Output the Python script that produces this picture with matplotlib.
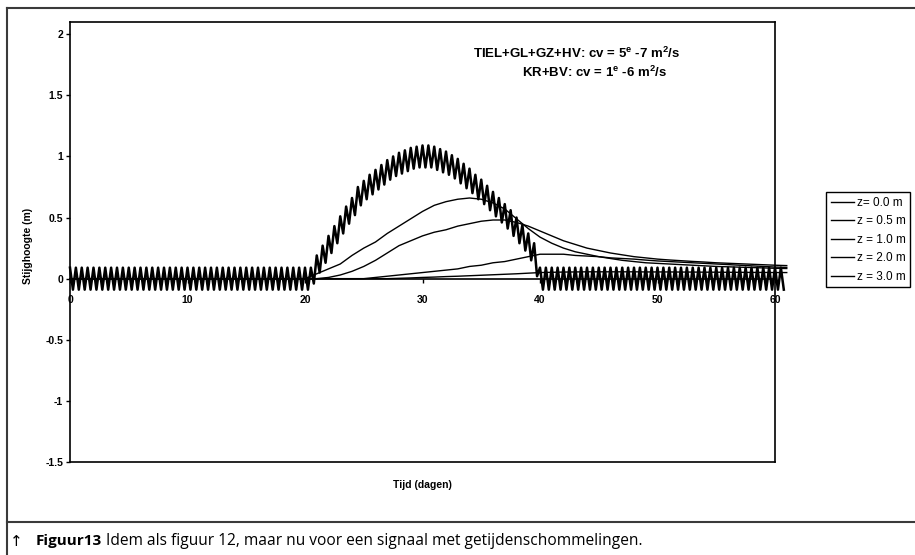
import numpy as np
import matplotlib
matplotlib.use("Agg")
from matplotlib import pyplot as plt
from matplotlib.lines import Line2D

plt.rcParams['font.family'] = ['Liberation Sans', 'DejaVu Sans']
plt.rcParams['mathtext.fontset'] = 'custom'
plt.rcParams['mathtext.rm'] = 'Liberation Sans:bold'
plt.rcParams['mathtext.default'] = 'rm'

# z = 0.0 m: getij, kammen op hele/halve dagen, dalen een kwart dag later
kam = [
    0.09, 0.09, 0.09, 0.09, 0.09, 0.09, 0.09, 0.09, 0.09, 0.09,
    0.09, 0.09, 0.09, 0.09, 0.09, 0.09, 0.09, 0.09, 0.09, 0.09,
    0.09, 0.09, 0.09, 0.09, 0.09, 0.09, 0.09, 0.09, 0.09, 0.09,
    0.09, 0.09, 0.09, 0.09, 0.09, 0.09, 0.09, 0.09, 0.09, 0.09,
    0.09,
    0.09, 0.19, 0.27, 0.35, 0.43, 0.51, 0.59, 0.66, 0.75, 0.80,
    0.85, 0.89, 0.93, 0.97, 1.00, 1.03, 1.05, 1.07, 1.08, 1.09,
    1.09, 1.08, 1.06, 1.04, 1.01, 0.98, 0.94, 0.90, 0.85, 0.81,
    0.76, 0.71, 0.66, 0.61, 0.56, 0.50, 0.44, 0.37, 0.29,
    0.09, 0.09, 0.09, 0.09, 0.09, 0.09, 0.09, 0.09, 0.09, 0.09,
    0.09, 0.09, 0.09, 0.09, 0.09, 0.09, 0.09, 0.09, 0.09, 0.09,
    0.09, 0.09, 0.09, 0.09, 0.09, 0.09, 0.09, 0.09, 0.09, 0.09,
    0.09, 0.09, 0.09, 0.09, 0.09, 0.09, 0.09, 0.09, 0.09, 0.09,
    0.09, 0.09,
]
dal = [
    -0.09, -0.09, -0.09, -0.09, -0.09, -0.09, -0.09, -0.09, -0.09, -0.09,
    -0.09, -0.09, -0.09, -0.09, -0.09, -0.09, -0.09, -0.09, -0.09, -0.09,
    -0.09, -0.09, -0.09, -0.09, -0.09, -0.09, -0.09, -0.09, -0.09, -0.09,
    -0.09, -0.09, -0.09, -0.09, -0.09, -0.09, -0.09, -0.09, -0.09, -0.09,
    -0.09,
    -0.04, 0.05, 0.13, 0.21, 0.29, 0.37, 0.45, 0.52, 0.60, 0.65,
    0.69, 0.73, 0.77, 0.81, 0.84, 0.86, 0.88, 0.90, 0.91, 0.91,
    0.91, 0.89, 0.87, 0.85, 0.82, 0.78, 0.74, 0.70, 0.65, 0.61,
    0.56, 0.51, 0.46, 0.41, 0.35, 0.29, 0.23, 0.15, 0.02,
    -0.09, -0.09, -0.09, -0.09, -0.09, -0.09, -0.09, -0.09, -0.09, -0.09,
    -0.09, -0.09, -0.09, -0.09, -0.09, -0.09, -0.09, -0.09, -0.09, -0.09,
    -0.09, -0.09, -0.09, -0.09, -0.09, -0.09, -0.09, -0.09, -0.09, -0.09,
    -0.09, -0.09, -0.09, -0.09, -0.09, -0.09, -0.09, -0.09, -0.09, -0.09,
    -0.09, -0.09,
]

# dieper gelegen niveaus, waarden per dag (dag 0 t/m 61)
dagen = list(range(0, 62))
z05 = [0.0] * 21 + [
    0.04, 0.08, 0.12, 0.19, 0.25, 0.30, 0.37, 0.43, 0.49, 0.55,
    0.60, 0.63, 0.65, 0.66, 0.65, 0.62, 0.57, 0.49, 0.41, 0.34,
    0.29, 0.25, 0.22, 0.20, 0.18, 0.165, 0.15, 0.14, 0.13, 0.125,
    0.12, 0.115, 0.11, 0.105, 0.10, 0.097, 0.094, 0.091, 0.088, 0.085,
    0.083,
]
z10 = [0.0] * 22 + [
    0.01, 0.03, 0.06, 0.10, 0.15, 0.21, 0.27, 0.31, 0.35, 0.38,
    0.40, 0.43, 0.45, 0.47, 0.48, 0.48, 0.46, 0.43, 0.39, 0.35,
    0.31, 0.28, 0.25, 0.23, 0.21, 0.195, 0.18, 0.17, 0.16, 0.153,
    0.147, 0.141, 0.136, 0.13, 0.126, 0.122, 0.118, 0.114, 0.11, 0.107,
]
z20 = [0.0] * 26 + [
    0.01, 0.02, 0.03, 0.04, 0.05, 0.06, 0.07, 0.08, 0.10, 0.11,
    0.13, 0.14, 0.16, 0.18, 0.20, 0.20, 0.20, 0.19, 0.185, 0.18,
    0.17, 0.165, 0.16, 0.152, 0.145, 0.14, 0.135, 0.13, 0.125, 0.12,
    0.115, 0.11, 0.105, 0.10, 0.095, 0.092,
]
z30 = [0.0] * 28 + [
    0.003, 0.006, 0.01, 0.013, 0.017, 0.02, 0.024, 0.028, 0.032, 0.036,
    0.04, 0.045, 0.05, 0.052, 0.054, 0.055, 0.056, 0.056, 0.056, 0.056,
    0.056, 0.055, 0.055, 0.055, 0.054, 0.054, 0.053, 0.053, 0.052, 0.052,
    0.051, 0.051, 0.05, 0.05,
]
labels = ["z= 0.0 m", "z = 0.5 m", "z = 1.0 m", "z = 2.0 m", "z = 3.0 m"]

# getij ineenvlechten: kam, dal, kam, dal ...
t_kam = np.arange(len(kam)) * 0.5
tijd = np.empty(2 * len(kam))
tijd[0::2] = t_kam
tijd[1::2] = t_kam + 0.25
z00 = np.empty(2 * len(kam))
z00[0::2] = kam
z00[1::2] = dal

fig = plt.figure(figsize=(9.15, 5.55), dpi=100)
ax = fig.add_axes([70 / 915, 1 - 462 / 555, 705 / 915, 440 / 555])

ax.plot(tijd, z00, color='black', lw=1.8, clip_on=False, label=labels[0])
for serie, lab in zip([z05, z10, z20, z30], labels[1:]):
    ax.plot(dagen, serie, color='black', lw=1.0, clip_on=False, label=lab)

ax.set_xlim(0, 60)
ax.set_ylim(-1.5, 2.1)
ax.set_xticks(range(0, 61, 10))
ax.set_yticks([-1.5, -1, -0.5, 0, 0.5, 1, 1.5, 2])
ax.set_yticklabels(["-1.5", "-1", "-0.5", "0", "0.5", "1", "1.5", "2"])

# x-as op nul, kader apart
ax.spines['bottom'].set_position(('data', 0))
ax.axhline(-1.5, color='black', lw=1.2, clip_on=False)
for s in ['left', 'right', 'top', 'bottom']:
    ax.spines[s].set_linewidth(1.2)
ax.tick_params(axis='both', direction='out', length=3, width=1,
               labelsize=7.5, pad=2)
ax.tick_params(axis='x', pad=9)
for lab in ax.get_xticklabels() + ax.get_yticklabels():
    lab.set_fontweight('bold')

ax.set_ylabel("Stijghoogte (m)", fontsize=7.5, fontweight='bold')
ax.yaxis.set_label_coords(-0.052, 0.49)
fig.text(422 / 915, 1 - 485 / 555, "Tijd (dagen)", fontsize=7.5,
         fontweight='bold', ha='center', va='center')

fig.text(473 / 915, 1 - 53 / 555, r"TIEL+GL+GZ+HV: cv = 5$^{e}$ -7 m$^{2}$/s",
         fontsize=9.5, fontweight='bold', ha='left', va='center')
fig.text(522 / 915, 1 - 72 / 555, r"KR+BV: cv = 1$^{e}$ -6 m$^{2}$/s",
         fontsize=9.5, fontweight='bold', ha='left', va='center')

leg = ax.legend(loc='upper left', bbox_to_anchor=(826 / 915, 1 - 192 / 555),
                bbox_transform=fig.transFigure, borderaxespad=0,
                fancybox=False, edgecolor='black', framealpha=1,
                fontsize=8.5, handlelength=2.0, handletextpad=0.2,
                labelspacing=0.55, borderpad=0.4)
leg.get_frame().set_linewidth(1.0)
for h in leg.get_lines():
    h.set_linewidth(1.0)

# omlijsting en onderschrift
kleur = '#3a3a3a'
fig.add_artist(Line2D([7 / 915, 1], [1 - 8 / 555, 1 - 8 / 555], color=kleur, lw=1.5))
fig.add_artist(Line2D([7 / 915, 7 / 915], [0, 1 - 8 / 555], color=kleur, lw=1.5))
fig.add_artist(Line2D([7 / 915, 1], [1 - 522 / 555, 1 - 522 / 555], color=kleur, lw=1.5))

fig.text(10 / 915, 1 - 541 / 555, "↑", fontsize=11, family=['DejaVu Sans'],
         va='center', ha='left')
fig.text(36 / 915, 1 - 541 / 555, "Figuur13", fontsize=11, fontweight='bold',
         family=['Open Sans', 'DejaVu Sans'], va='center', ha='left')
fig.text(106 / 915, 1 - 541 / 555,
         "Idem als figuur 12, maar nu voor een signaal met getijdenschommelingen.",
         fontsize=11.2, family=['Open Sans', 'DejaVu Sans'], va='center', ha='left')

fig.savefig("out.png", dpi=100)
